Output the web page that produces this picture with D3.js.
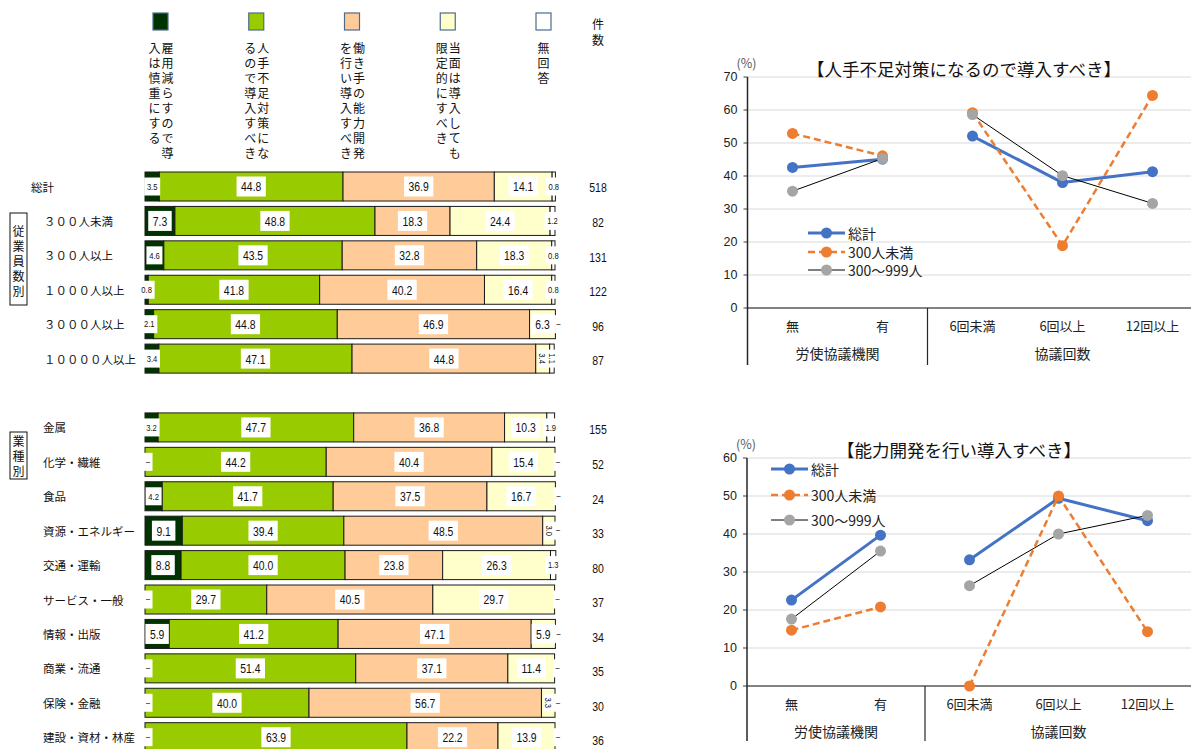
<!DOCTYPE html>
<html>
<head>
<meta charset="utf-8">
<script src="https://cdn.jsdelivr.net/npm/d3@7"></script>
<style>
  body { margin: 0; background: #fff; }
  svg text { font-family: "Noto Sans CJK JP", "Noto Sans", sans-serif; }
</style>
</head>
<body>
<svg id="chart" width="1191" height="749"></svg>
<script>
// ---------- 帯グラフ：回答の選択肢 ----------
const answerLegend = [
  ["雇用減らすので導", "入は慎重にする"],
  ["人手不足対策にな", "るので導入すべき"],
  ["働き手の能力開発", "を行い導入すべき"],
  ["当面は導入しても", "限定的にすべき"],
  ["無回答"]
];
const answerColors = ["#003300", "#99cc00", "#ffcc99", "#ffffcc", "#ffffff"];

// 従業員数別
const sizeGroups = ["総計", "３００人未満", "３００人以上", "１０００人以上", "３０００人以上", "１００００人以上"];
const sizeReduce    = [3.5, 7.3, 4.6, 0.8, 2.1, 3.4];
const sizeShortage  = [44.8, 48.8, 43.5, 41.8, 44.8, 47.1];
const sizeDevelop   = [36.9, 18.3, 32.8, 40.2, 46.9, 44.8];
const sizeLimited   = [14.1, 24.4, 18.3, 16.4, 6.3, 3.4];
const sizeNoAnswer  = [0.8, 1.2, 0.8, 0.8, 0, 1.1];
const sizeCounts    = [518, 82, 131, 122, 96, 87];

// 業種別
const industryGroups = ["金属", "化学・繊維", "食品", "資源・エネルギー", "交通・運輸", "サービス・一般", "情報・出版", "商業・流通", "保険・金融", "建設・資材・林産"];
const industryReduce   = [3.2, 0, 4.2, 9.1, 8.8, 0, 5.9, 0, 0, 0];
const industryShortage = [47.7, 44.2, 41.7, 39.4, 40.0, 29.7, 41.2, 51.4, 40.0, 63.9];
const industryDevelop  = [36.8, 40.4, 37.5, 48.5, 23.8, 40.5, 47.1, 37.1, 56.7, 22.2];
const industryLimited  = [10.3, 15.4, 16.7, 3.0, 26.3, 29.7, 5.9, 11.4, 3.3, 13.9];
const industryNoAnswer = [1.9, 0, 0, 0, 1.3, 0, 0, 0, 0, 0];
const industryCounts   = [155, 52, 24, 33, 80, 37, 34, 35, 30, 36];

// ---------- 折れ線グラフ ----------
const lineCategories = ["無", "有", "6回未満", "6回以上", "12回以上"];
const lineGroups = ["労使協議機関", "協議回数"];
const lineSeries = ["総計", "300人未満", "300～999人"];
const shortageTotal = [42.6, 45.1, 52.1, 38.0, 41.3];
const shortageSmall = [52.9, 46.1, 59.2, 18.9, 64.4];
const shortageMid   = [35.4, 45.3, 58.6, 40.1, 31.7];
const developTotal  = [22.6, 39.7, 33.2, 49.4, 43.5];
const developSmall  = [14.7, 20.8, 0.0, 50.0, 14.3];
const developMid    = [17.6, 35.5, 26.4, 40.0, 44.9];

const svg = d3.select("#chart");
const NUM = '"Liberation Sans", Arial, sans-serif';

// ================= 帯グラフ =================
const rows = [
  ...sizeGroups.map((name, i) => ({
    name, slot: i, labelX: i === 0 ? 31 : 44,
    vals: [sizeReduce[i], sizeShortage[i], sizeDevelop[i], sizeLimited[i], sizeNoAnswer[i]],
    count: sizeCounts[i]
  })),
  ...industryGroups.map((name, i) => ({
    name, slot: i + 7, labelX: 43,
    vals: [industryReduce[i], industryShortage[i], industryDevelop[i], industryLimited[i], industryNoAnswer[i]],
    count: industryCounts[i]
  }))
];

const x = d3.scaleLinear().domain([0, 100]).range([145, 555]);
const y = d3.scaleBand().domain(d3.range(17)).range([169.3, 754.4])
  .paddingInner(0.157).paddingOuter(0.0785);
const yCount = d3.scaleLinear().domain([0, 16]).range([188, 741]);

const keys = [0, 1, 2, 3, 4];
const stacked = d3.stack().keys(keys).value((d, k) => d.vals[k])(rows);

const barG = svg.append("g");
stacked.forEach((layer, k) => {
  barG.selectAll(null).data(layer).join("rect")
    .attr("x", d => x(d[0]))
    .attr("y", d => y(d.data.slot))
    .attr("width", d => Math.max(0, x(d[1]) - x(d[0])))
    .attr("height", y.bandwidth())
    .attr("fill", answerColors[k])
    .attr("stroke", "#1a1a1a")
    .attr("stroke-width", 1);
});

// 値ラベル（白い箱付き）
const labG = svg.append("g");
stacked.forEach((layer, k) => {
  layer.forEach(d => {
    const v = d.data.vals[k];
    const cy = y(d.data.slot) + y.bandwidth() / 2;
    let cx = (x(d[0]) + x(d[1])) / 2;
    let txt, fs, mode;
    if (v === 0) {
      if (k !== 0 && k !== 4) return;
      txt = "–"; fs = 9; mode = "zero";
      cx = k === 0 ? x(0) + 3 : x(d[1]) + 3;
    } else {
      txt = v.toFixed(1);
      const rotated = (k === 3 && v < 5) || (k === 4 && d.data.vals[3] < 5);
      mode = rotated ? "rot" : (v < 5 ? "small" : "normal");
      fs = mode === "normal" ? 13 : 9.5;
    }
    const g = labG.append("g").attr("transform", `translate(${cx},${cy})`);
    const box = g.append("rect").attr("fill", "#fff");
    const t = g.append("text")
      .attr("text-anchor", "middle")
      .attr("dominant-baseline", "central")
      .style("font-family", NUM)
      .attr("font-size", fs)
      .attr("fill", "#111")
      .text(txt);
    const tw = t.node().getComputedTextLength() * 0.8;
    let bw, bh;
    if (mode === "normal") { bw = tw + 9; bh = 20; }
    else if (mode === "small") { bw = 16; bh = 18; }
    else { bw = 9; bh = 18; }
    box.attr("x", -bw / 2).attr("y", -bh / 2).attr("width", bw).attr("height", bh);
    t.attr("transform", mode === "rot" ? "rotate(90) scale(0.8,1)" : "scale(0.8,1)");
  });
});

// 行ラベル
svg.append("g").selectAll("text").data(rows).join("text")
  .attr("x", d => d.labelX)
  .attr("y", d => y(d.slot) + y.bandwidth() / 2)
  .attr("dominant-baseline", "central")
  .attr("font-size", 11.5)
  .attr("fill", "#111")
  .text(d => d.name);

// 件数
svg.append("g").selectAll("g").data(rows).join("g")
  .attr("transform", d => `translate(598,${yCount(d.slot)})`)
  .append("text")
  .attr("text-anchor", "middle")
  .attr("dominant-baseline", "central")
  .attr("transform", "scale(0.78,1)")
  .style("font-family", NUM)
  .attr("font-size", 13.5)
  .attr("fill", "#111")
  .text(d => d.count);

// 縦書きテキストの補助
function verticalText(g, str, cx, cy0, step, size) {
  Array.from(str).forEach((ch, i) => {
    g.append("text")
      .attr("x", cx).attr("y", cy0 + i * step)
      .attr("text-anchor", "middle")
      .attr("dominant-baseline", "central")
      .attr("font-size", size)
      .attr("fill", "#111")
      .text(ch);
  });
}

// 凡例（縦書き）
const legG = svg.append("g");
answerLegend.forEach((cols, i) => {
  const sx = 153 + i * 95.75;
  legG.append("rect")
    .attr("x", sx).attr("y", 13).attr("width", 15).attr("height", 17)
    .attr("fill", answerColors[i]).attr("stroke", "#4f6a8f").attr("stroke-width", 1.2);
  if (cols.length === 1) {
    verticalText(legG, cols[0], sx + 7.5, 47, 15, 12);
  } else {
    verticalText(legG, cols[0], sx + 14.5, 47, 15, 12);
    verticalText(legG, cols[1], sx + 1.5, 47, 15, 12);
  }
});
verticalText(legG, "件数", 598, 23, 16.5, 12);

// 区分ボックス
const boxG = svg.append("g");
[["従業員数別", 213, 92, 230], ["業種別", 432, 47, 440]].forEach(([s, top, h, c0]) => {
  boxG.append("rect").attr("x", 10).attr("y", top).attr("width", 17).attr("height", h)
    .attr("fill", "#fff").attr("stroke", "#111").attr("stroke-width", 1);
  verticalText(boxG, s, 18.5, c0, 15, 12);
});

// ================= 折れ線グラフ =================
const seriesStyle = [
  { color: "#4472c4", marker: "#4472c4", width: 3, dash: null },
  { color: "#ed7d31", marker: "#ed7d31", width: 2.5, dash: "7,4" },
  { color: "#000000", marker: "#a5a5a5", width: 1, dash: null }
];

function lineChart(o) {
  const g = svg.append("g");
  const yS = d3.scaleLinear().domain([0, o.max]).range([o.y0, o.y1]);
  const xS = d3.scalePoint().domain(lineCategories).range([o.xl, o.xr]).padding(0.5);
  const step = xS.step();
  const right = 1191;

  // 目盛線
  const ticks = d3.range(0, o.max + 1, 10);
  g.selectAll(".grid").data(ticks.filter(t => t > 0)).join("line")
    .attr("x1", o.xl).attr("x2", right)
    .attr("y1", d => yS(d)).attr("y2", d => yS(d))
    .attr("stroke", "#d9d9d9").attr("stroke-width", 1);
  g.selectAll(".tk").data(ticks).join("line")
    .attr("x1", o.xl - 4).attr("x2", o.xl)
    .attr("y1", d => yS(d)).attr("y2", d => yS(d))
    .attr("stroke", "#404040").attr("stroke-width", 1);
  g.selectAll(".tl").data(ticks).join("text")
    .attr("x", o.xl - 10).attr("y", d => yS(d))
    .attr("text-anchor", "end").attr("dominant-baseline", "central")
    .style("font-family", NUM).attr("font-size", 12.5).attr("fill", "#222")
    .text(d => d);

  // 軸
  g.append("line").attr("x1", o.xl).attr("x2", right).attr("y1", yS(0)).attr("y2", yS(0))
    .attr("stroke", "#595959").attr("stroke-width", 1.5);
  g.append("line").attr("x1", o.xl).attr("x2", o.xl).attr("y1", yS(o.max)).attr("y2", yS(0) + o.below)
    .attr("stroke", "#262626").attr("stroke-width", 1.5);
  g.append("line").attr("x1", o.xl + step * 2).attr("x2", o.xl + step * 2)
    .attr("y1", yS(0)).attr("y2", yS(0) + o.below)
    .attr("stroke", "#262626").attr("stroke-width", 1.2);

  // 項目ラベル
  g.selectAll(".cat").data(lineCategories).join("text")
    .attr("x", d => xS(d)).attr("y", yS(0) + o.catDy)
    .attr("text-anchor", "middle").attr("dominant-baseline", "central")
    .attr("font-size", 13).attr("fill", "#222").text(d => d);
  g.selectAll(".grp").data(lineGroups).join("text")
    .attr("x", (d, i) => i === 0 ? o.xl + step : xS(lineCategories[3]))
    .attr("y", yS(0) + o.grpDy)
    .attr("text-anchor", "middle").attr("dominant-baseline", "central")
    .attr("font-size", 14).attr("fill", "#222").text(d => d);

  // (%) と表題
  g.append("text").attr("x", o.xl - 11).attr("y", yS(o.max) - 15)
    .attr("dominant-baseline", "central").attr("font-size", 12.5).attr("fill", "#595959").text("(%)");
  g.append("text").attr("x", o.titleX).attr("y", o.titleY)
    .attr("text-anchor", "middle").attr("dominant-baseline", "central")
    .attr("font-size", 17.5).attr("fill", "#111").text(o.title);

  // 系列
  const line = d3.line().x(d => xS(d.c)).y(d => yS(d.v));
  o.data.forEach((vals, s) => {
    const st = seriesStyle[s];
    const pts = vals.map((v, i) => ({ c: lineCategories[i], v }));
    [pts.slice(0, 2), pts.slice(2)].forEach(seg => {
      g.append("path").attr("d", line(seg)).attr("fill", "none")
        .attr("stroke", st.color).attr("stroke-width", st.width)
        .attr("stroke-dasharray", st.dash).attr("stroke-linejoin", "round");
    });
    g.selectAll(null).data(pts).join("circle")
      .attr("cx", d => xS(d.c)).attr("cy", d => yS(d.v)).attr("r", 5.5)
      .attr("fill", st.marker);
  });

  // 凡例
  lineSeries.forEach((name, s) => {
    const st = seriesStyle[s];
    const ly = o.legY[s];
    g.append("line").attr("x1", o.legX).attr("x2", o.legX + 37).attr("y1", ly).attr("y2", ly)
      .attr("stroke", st.color).attr("stroke-width", st.width).attr("stroke-dasharray", st.dash);
    g.append("circle").attr("cx", o.legX + 18.5).attr("cy", ly).attr("r", 5.5).attr("fill", st.marker);
    g.append("text").attr("x", o.legX + 40).attr("y", ly)
      .attr("dominant-baseline", "central").attr("font-size", 14).attr("fill", "#222").text(name);
  });
}

lineChart({
  max: 70, y0: 308, y1: 77, xl: 747.5, xr: 1197.5, below: 57, catDy: 17, grpDy: 45,
  title: "【人手不足対策になるので導入すべき】", titleX: 964, titleY: 68,
  data: [shortageTotal, shortageSmall, shortageMid],
  legX: 808, legY: [233, 252, 270]
});
lineChart({
  max: 60, y0: 686, y1: 458, xl: 747, xr: 1192, below: 55, catDy: 17, grpDy: 45,
  title: "【能力開発を行い導入すべき】", titleX: 959, titleY: 449,
  data: [developTotal, developSmall, developMid],
  legX: 771, legY: [469, 495, 520]
});
</script>
</body>
</html>
